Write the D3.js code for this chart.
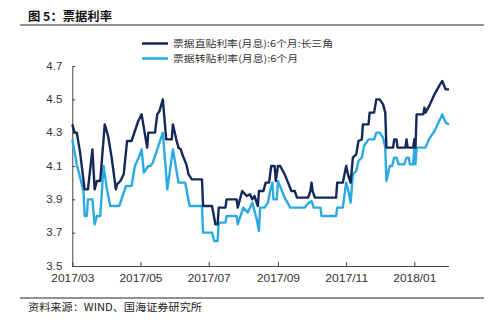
<!DOCTYPE html>
<html>
<head>
<meta charset="utf-8">
<script src="https://cdn.jsdelivr.net/npm/d3@7"></script>
<style>
  html, body { margin: 0; padding: 0; background: #fff; }
  svg { display: block; }
</style>
</head>
<body>
<svg id="chart" width="500" height="324"></svg>
<script>
// ---------- data ----------
const titleText = "图 5：票据利率";
const sourceText = "资料来源：WIND、国海证券研究所";
const seriesNames = ["票据直贴利率(月息):6个月:长三角", "票据转贴利率(月息):6个月"];

const yTicks = [3.5, 3.7, 3.9, 4.1, 4.3, 4.5, 4.7];
const xTicks = ["2017-03-01", "2017-05-01", "2017-07-01", "2017-09-01", "2017-11-01", "2018-01-01"];

const directDates = [
  "2017-03-01","2017-03-03","2017-03-05","2017-03-08","2017-03-12","2017-03-15","2017-03-19","2017-03-21",
  "2017-03-23","2017-03-26","2017-03-30","2017-04-02","2017-04-05","2017-04-09","2017-04-10","2017-04-13",
  "2017-04-16","2017-04-19","2017-04-23","2017-04-26","2017-04-29","2017-05-02","2017-05-07","2017-05-08",
  "2017-05-14","2017-05-16","2017-05-18","2017-05-21","2017-05-24","2017-05-29","2017-05-30","2017-06-02",
  "2017-06-04","2017-06-06","2017-06-08","2017-06-11","2017-06-13","2017-06-16","2017-06-25","2017-06-26",
  "2017-07-04","2017-07-07","2017-07-09","2017-07-10","2017-07-16","2017-07-17","2017-07-26","2017-07-27",
  "2017-07-31","2017-08-04","2017-08-07","2017-08-09","2017-08-11","2017-08-14","2017-08-15","2017-08-19",
  "2017-08-21","2017-08-24","2017-08-26","2017-08-29","2017-08-30","2017-09-01","2017-09-03","2017-09-07",
  "2017-09-10","2017-09-13","2017-09-16","2017-09-18","2017-09-28","2017-09-30","2017-10-01","2017-10-02",
  "2017-10-04","2017-10-23","2017-10-24","2017-10-29","2017-11-01","2017-11-03","2017-11-05","2017-11-07",
  "2017-11-10","2017-11-12","2017-11-15","2017-11-16","2017-11-21","2017-11-22","2017-11-26","2017-11-28",
  "2017-12-01","2017-12-04","2017-12-06","2017-12-07","2017-12-13","2017-12-14","2017-12-16","2017-12-17",
  "2017-12-24","2017-12-25","2017-12-26","2017-12-31","2018-01-01","2018-01-02","2018-01-03","2018-01-09",
  "2018-01-10","2018-01-11","2018-01-15","2018-01-19","2018-01-24","2018-01-26","2018-01-29","2018-02-01"
];
const directValues = [
  4.35,4.30,4.30,4.18,3.96,3.96,4.20,3.96,
  4.01,4.01,4.35,4.28,4.16,3.96,3.99,4.01,
  4.05,4.25,4.25,4.31,4.37,4.41,4.21,4.30,
  4.30,4.41,4.43,4.50,4.26,4.26,4.35,4.26,
  4.21,4.20,4.16,4.11,4.05,4.02,4.02,3.86,
  3.86,3.75,3.75,3.85,3.85,3.90,3.90,3.85,
  3.95,3.92,3.93,3.90,3.92,3.86,3.95,3.95,
  4.00,4.00,4.10,4.10,4.01,4.10,4.10,4.05,
  4.00,3.95,3.95,3.91,3.91,3.95,4.00,3.95,
  3.91,3.91,4.00,4.00,4.10,4.04,4.00,4.15,
  4.17,4.25,4.26,4.35,4.35,4.42,4.42,4.50,
  4.50,4.47,4.42,4.21,4.21,4.26,4.26,4.21,
  4.21,4.26,4.21,4.21,4.26,4.21,4.41,4.41,
  4.45,4.42,4.47,4.53,4.59,4.61,4.56,4.56
];

const transferDates = [
  "2017-03-01","2017-03-05","2017-03-08","2017-03-11","2017-03-12","2017-03-14","2017-03-15","2017-03-19",
  "2017-03-21","2017-03-23","2017-03-26","2017-03-29","2017-04-01","2017-04-04","2017-04-12","2017-04-14",
  "2017-04-18","2017-04-23","2017-04-26","2017-04-30","2017-05-02","2017-05-04","2017-05-08","2017-05-10",
  "2017-05-12","2017-05-16","2017-05-21","2017-05-25","2017-05-30","2017-06-04","2017-06-10","2017-06-14",
  "2017-06-25","2017-06-26","2017-07-04","2017-07-06","2017-07-09","2017-07-10","2017-07-16","2017-07-17",
  "2017-07-26","2017-07-27","2017-08-01","2017-08-05","2017-08-09","2017-08-13","2017-08-15","2017-08-16",
  "2017-08-20","2017-08-23","2017-08-25","2017-08-27","2017-08-28","2017-08-31","2017-09-01","2017-09-04",
  "2017-09-07","2017-09-12","2017-09-25","2017-09-27","2017-10-01","2017-10-03","2017-10-09","2017-10-10",
  "2017-10-23","2017-10-24","2017-10-29","2017-11-01","2017-11-03","2017-11-05","2017-11-07","2017-11-10",
  "2017-11-12","2017-11-15","2017-11-17","2017-11-21","2017-11-26","2017-11-28","2017-12-01","2017-12-04",
  "2017-12-06","2017-12-07","2017-12-10","2017-12-12","2017-12-14","2017-12-16","2017-12-18","2017-12-23",
  "2017-12-25","2017-12-27","2017-12-28","2017-12-31","2018-01-01","2018-01-02","2018-01-03","2018-01-11",
  "2018-01-14","2018-01-19","2018-01-24","2018-01-26","2018-01-29","2018-02-01"
];
const transferValues = [
  4.26,4.11,4.03,3.95,3.80,3.80,3.90,3.90,
  3.75,3.80,3.80,4.10,3.96,3.86,3.86,3.90,
  3.98,3.98,4.10,4.16,4.20,4.06,4.10,4.10,
  4.12,4.20,4.30,3.96,4.20,4.00,4.00,3.86,
  3.86,3.70,3.70,3.65,3.65,3.76,3.76,3.80,
  3.80,3.75,3.85,3.82,3.88,3.78,3.71,3.85,
  3.85,3.88,3.95,4.00,3.90,3.90,4.01,3.96,
  3.91,3.85,3.85,3.87,3.89,3.85,3.85,3.80,
  3.80,3.85,3.85,4.00,3.95,3.88,4.05,4.07,
  4.13,4.15,4.22,4.26,4.26,4.30,4.30,4.27,
  4.21,4.01,4.10,4.10,4.15,4.15,4.11,4.11,
  4.15,4.15,4.11,4.11,4.21,4.11,4.21,4.21,
  4.26,4.31,4.38,4.41,4.36,4.35
];

// ---------- drawing ----------
const colors = ["#15285a", "#2baae2"];
const parse = d3.timeParse("%Y-%m-%d");
const svg = d3.select("#chart");

const x = d3.scaleTime()
  .domain([parse("2017-03-01"), parse("2018-02-01")])
  .range([72.3, 449]);
const y = d3.scaleLinear().domain([3.5, 4.7]).range([266, 66]);

const cjk = "'Noto Sans CJK SC', 'Noto Sans', sans-serif";
const latin = "'Liberation Sans', Arial, sans-serif";

// title and rules
svg.append("text")
  .attr("x", 28).attr("y", 20.5)
  .attr("font-family", cjk).attr("font-weight", "bold")
  .attr("font-size", 12).attr("fill", "#111")
  .attr("textLength", 84).attr("lengthAdjust", "spacingAndGlyphs")
  .text(titleText);
svg.append("line").attr("x1", 20).attr("x2", 484).attr("y1", 25).attr("y2", 25)
  .attr("stroke", "#222").attr("stroke-width", 1);
svg.append("line").attr("x1", 20).attr("x2", 484).attr("y1", 298).attr("y2", 298)
  .attr("stroke", "#222").attr("stroke-width", 1);
svg.append("text")
  .attr("x", 28).attr("y", 311)
  .attr("font-family", cjk).attr("font-size", 10.5).attr("fill", "#222")
  .attr("textLength", 174).attr("lengthAdjust", "spacingAndGlyphs")
  .text(sourceText);

// legend
const legendW = [160, 125];
seriesNames.forEach((name, i) => {
  const ly = 43.5 + i * 15;
  svg.append("line").attr("x1", 142).attr("x2", 168).attr("y1", ly).attr("y2", ly)
    .attr("stroke", colors[i]).attr("stroke-width", 2.5);
  svg.append("text").attr("x", 173).attr("y", ly + 3.5)
    .attr("font-family", cjk).attr("font-size", 9.5).attr("fill", "#333")
    .attr("textLength", legendW[i]).attr("lengthAdjust", "spacingAndGlyphs")
    .text(name);
});

// axes
const fmt = d3.timeFormat("%Y/%m");
const xAxis = d3.axisBottom(x)
  .tickValues(xTicks.map(parse))
  .tickFormat(fmt)
  .tickSizeInner(-4).tickSizeOuter(0).tickPadding(9);
const gx = svg.append("g").attr("transform", "translate(0,266)").call(xAxis);
gx.select(".domain").attr("stroke", "#444").attr("d", "M72.3,0.5H449");
gx.selectAll(".tick line").attr("stroke", "#444");
gx.selectAll(".tick text")
  .attr("font-family", latin).attr("font-size", 10).attr("fill", "#333")
  .attr("textLength", 43).attr("lengthAdjust", "spacingAndGlyphs");

const yAxis = d3.axisLeft(y)
  .tickValues(yTicks)
  .tickFormat(d3.format(".1f"))
  .tickSizeInner(-3).tickSizeOuter(0).tickPadding(10);
const gy = svg.append("g").attr("transform", "translate(72.3,0)").call(yAxis);
gy.select(".domain").attr("stroke", "#444");
gy.selectAll(".tick line").attr("stroke", "#444");
gy.selectAll(".tick text")
  .attr("font-family", latin).attr("font-size", 10).attr("fill", "#333")
  .attr("textLength", 16).attr("lengthAdjust", "spacingAndGlyphs");

// lines
const line = d3.line().x(d => x(d[0])).y(d => y(d[1]));
const transferData = transferDates.map((d, i) => [parse(d), transferValues[i]]);
const directData = directDates.map((d, i) => [parse(d), directValues[i]]);

svg.append("path").datum(transferData)
  .attr("fill", "none").attr("stroke", colors[1]).attr("stroke-width", 2.4)
  .attr("stroke-linejoin", "round").attr("d", line);
svg.append("path").datum(directData)
  .attr("fill", "none").attr("stroke", colors[0]).attr("stroke-width", 2.4)
  .attr("stroke-linejoin", "round").attr("d", line);
</script>
</body>
</html>
